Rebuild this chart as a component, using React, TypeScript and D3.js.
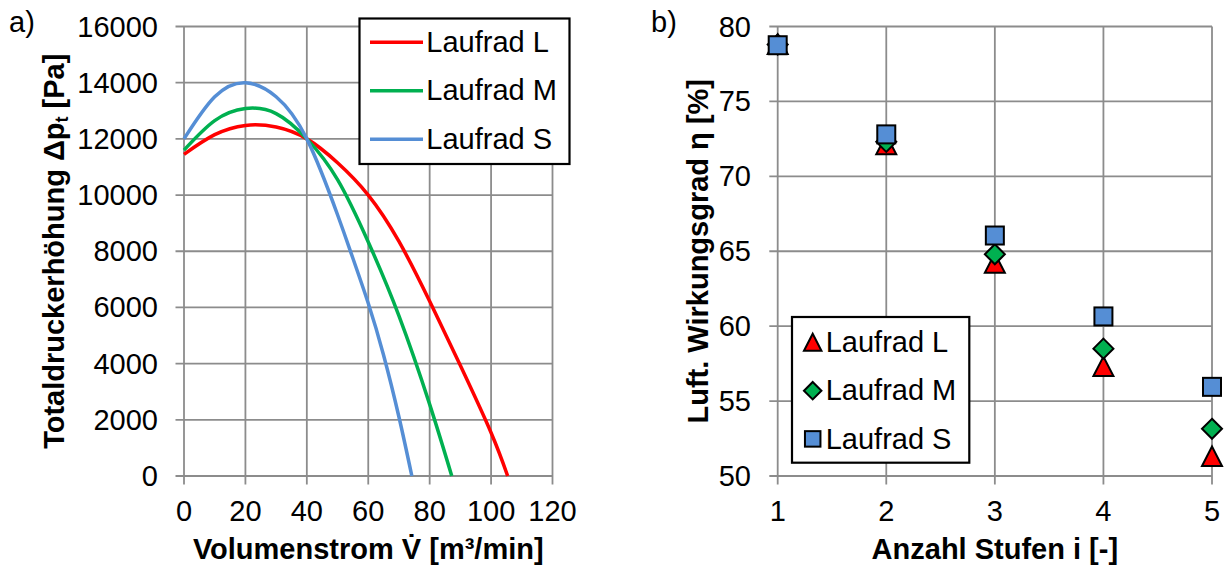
import React from "react";
import * as d3 from "d3";

// ---- Data: chart a) pressure curves ----
const flowL = [0, 10, 20, 30, 40, 50, 60, 70, 80, 90, 100, 105.4];
const pressureL = [11450, 12150, 12480, 12420, 12000, 11150, 10000, 8350, 6220, 3930, 1540, 0];
const flowM = [0, 10, 20, 30, 40, 50, 60, 70, 80, 87.2];
const pressureM = [11600, 12650, 13080, 12900, 12000, 10550, 8330, 5700, 2550, 0];
const flowS = [0, 10, 20, 30, 40, 50, 55, 60, 65, 70, 74.2];
const pressureS = [12000, 13500, 14000, 13500, 12000, 9300, 7750, 6150, 4300, 2100, 0];

const seriesNames = ["Laufrad L", "Laufrad M", "Laufrad S"];
const seriesColors = ["#FF0000", "#00B050", "#558ED5"];

const xTicksA = [0, 20, 40, 60, 80, 100, 120];
const yTicksA = [0, 2000, 4000, 6000, 8000, 10000, 12000, 14000, 16000];

// ---- Data: chart b) efficiency ----
const stages = [1, 2, 3, 4, 5];
const effL = [78.8, 72.1, 64.2, 57.3, 51.3];
const effM = [78.8, 72.3, 64.8, 58.5, 53.15];
const effS = [78.75, 72.8, 66.05, 60.65, 55.95];

const xTicksB = [1, 2, 3, 4, 5];
const yTicksB = [50, 55, 60, 65, 70, 75, 80];

const FONT = "'Liberation Sans', Arial, Helvetica, sans-serif";
const FS = 29;
const GRID = "#8c8c8c";
const GW = 1.8;

function Marker({ type, cx, cy, size, fill }: { type: string; cx: number; cy: number; size: number; fill: string }) {
  const h = size / 2;
  if (type === "tri") {
    const pts = `${cx},${cy - h} ${cx + h},${cy + h * 0.95} ${cx - h},${cy + h * 0.95}`;
    return <polygon points={pts} fill={fill} stroke="#000" strokeWidth={2} strokeLinejoin="miter" />;
  }
  if (type === "dia") {
    const pts = `${cx},${cy - h} ${cx + h},${cy} ${cx},${cy + h} ${cx - h},${cy}`;
    return <polygon points={pts} fill={fill} stroke="#000" strokeWidth={2} />;
  }
  return <rect x={cx - h + 1} y={cy - h + 1} width={size - 2} height={size - 2} fill={fill} stroke="#000" strokeWidth={2} />;
}

export default function App() {
  // Chart a
  const xA = d3.scaleLinear().domain([0, 120]).range([184, 552.5]);
  const yA = d3.scaleLinear().domain([0, 16000]).range([476, 26.5]);
  const line = d3
    .line<[number, number]>()
    .x((d) => xA(d[0]))
    .y((d) => yA(d[1]))
    .curve(d3.curveNatural);
  const curves: [number, number][][] = [
    flowL.map((f, i) => [f, pressureL[i]] as [number, number]),
    flowM.map((f, i) => [f, pressureM[i]] as [number, number]),
    flowS.map((f, i) => [f, pressureS[i]] as [number, number]),
  ];

  // Chart b
  const xB = d3.scaleLinear().domain([1, 5]).range([777.7, 1212]);
  const yB = d3.scaleLinear().domain([50, 80]).range([476, 26.5]);
  const effSeries = [effL, effM, effS];
  const markerTypes = ["tri", "dia", "sq"];

  return (
    <svg
      width={1225}
      height={570}
      style={{ position: "absolute", left: 0, top: 0, background: "#fff" }}
      fontFamily={FONT}
    >
      <rect x={0} y={0} width={1225} height={570} fill="#fff" />
      {/* ---------- Chart a ---------- */}
      <text x={9} y={32} fontSize={FS}>a)</text>
      {yTicksA.map((t) => (
        <g key={"ya" + t}>
          <line x1={175.5} x2={xA(120)} y1={yA(t)} y2={yA(t)} stroke={GRID} strokeWidth={GW} />
          <text x={158} y={yA(t) + 10} fontSize={FS} textAnchor="end">{t}</text>
        </g>
      ))}
      {xTicksA.map((t) => (
        <g key={"xa" + t}>
          <line x1={xA(t)} x2={xA(t)} y1={yA(16000)} y2={484.5} stroke={GRID} strokeWidth={GW} />
          <text x={xA(t)} y={521} fontSize={FS} textAnchor="middle">{t}</text>
        </g>
      ))}
      {curves.map((c, i) => (
        <path key={"c" + i} d={line(c) || ""} fill="none" stroke={seriesColors[i]} strokeWidth={3.5} />
      ))}
      {/* legend a */}
      <rect x={359.5} y={18.5} width={210} height={145.5} fill="#fff" stroke="#000" strokeWidth={2.2} />
      {seriesNames.map((n, i) => {
        const ry = 42.3 + i * 48.5;
        return (
          <g key={"la" + i}>
            <line x1={370} x2={423} y1={ry} y2={ry} stroke={seriesColors[i]} strokeWidth={3.5} />
            <text x={426.3} y={ry + 9.6} fontSize={FS}>{n}</text>
          </g>
        );
      })}
      <text
        transform={`translate(64, ${(yA(0) + yA(16000)) / 2}) rotate(-90)`}
        fontSize={FS}
        fontWeight="bold"
        textAnchor="middle"
      >
        Totaldruckerhöhung Δp<tspan fontSize={FS * 0.62} dy={4}>t</tspan><tspan dy={-4}> [Pa]</tspan>
      </text>
      <text x={(xA(0) + xA(120)) / 2} y={559} fontSize={FS} fontWeight="bold" textAnchor="middle">
        Volumenstrom V̇ [m³/min]
      </text>

      {/* ---------- Chart b ---------- */}
      <text x={651} y={32} fontSize={FS}>b)</text>
      {yTicksB.map((t) => (
        <g key={"yb" + t}>
          <line x1={769.3} x2={xB(5)} y1={yB(t)} y2={yB(t)} stroke={GRID} strokeWidth={GW} />
          <text x={751} y={yB(t) + 10} fontSize={FS} textAnchor="end">{t}</text>
        </g>
      ))}
      {xTicksB.map((t) => (
        <g key={"xb" + t}>
          <line x1={xB(t)} x2={xB(t)} y1={yB(80)} y2={484.5} stroke={GRID} strokeWidth={GW} />
          <text x={xB(t)} y={521} fontSize={FS} textAnchor="middle">{t}</text>
        </g>
      ))}
      {effSeries.map((s, si) =>
        s.map((v, i) => (
          <Marker
            key={`m${si}-${i}`}
            type={markerTypes[si]}
            cx={xB(stages[i])}
            cy={yB(v)}
            size={20}
            fill={seriesColors[si]}
          />
        ))
      )}
      {/* legend b */}
      <rect x={792} y={317} width={177.3} height={145.7} fill="#fff" stroke="#000" strokeWidth={2.2} />
      {seriesNames.map((n, i) => {
        const ry = 342.5 + i * 48.2;
        return (
          <g key={"lb" + i}>
            <Marker type={markerTypes[i]} cx={812.7} cy={ry} size={17.5} fill={seriesColors[i]} />
            <text x={825.7} y={ry + 9.6} fontSize={FS}>{n}</text>
          </g>
        );
      })}
      <text
        transform={`translate(708, ${(yB(50) + yB(80)) / 2}) rotate(-90)`}
        fontSize={FS}
        fontWeight="bold"
        textAnchor="middle"
      >
        Luft. Wirkungsgrad η [%]
      </text>
      <text x={(xB(1) + xB(5)) / 2} y={559} fontSize={FS} fontWeight="bold" textAnchor="middle">
        Anzahl Stufen i [-]
      </text>
    </svg>
  );
}
